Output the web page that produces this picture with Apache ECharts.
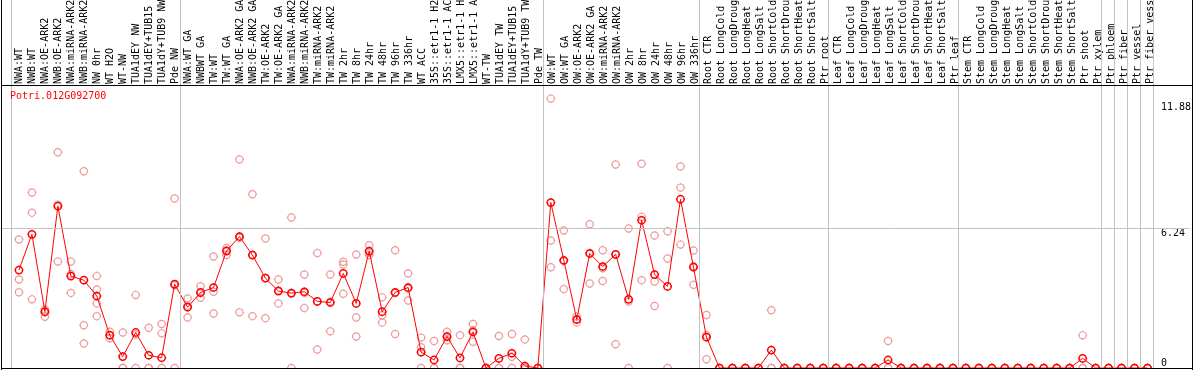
<!DOCTYPE html>
<html><head><meta charset="utf-8">
<script src="https://cdn.jsdelivr.net/npm/echarts@6/dist/echarts.min.js"></script>
<style>html,body{margin:0;padding:0;background:#fff}#c{width:1194px;height:370px}</style>
</head><body><div id="c"></div>
<script>
const chartTitle = 'Potri.012G092700';

const categories = [
  'NWA:WT','NWB:WT','NWA:OE-ARK2','NWB:OE-ARK2','NWA:miRNA-ARK2','NWB:miRNA-ARK2','NW 0hr','WT H2O','WT-NW','TUA1dEY NW','TUA1dEY+TUB15 NW','TUA1dY+TUB9 NW','Pde NW',
  'NWA:WT GA','NWBWT GA','TW:WT','TW:WT GA','NWA:OE-ARK2 GA','NWB:OE-ARK2 GA','TW:OE-ARK2','TW:OE-ARK2 GA','NWA:miRNA-ARK2 GA','NWB:miRNA-ARK2 GA','TW:miRNA-ARK2','TW:miRNA-ARK2 GA','TW 2hr','TW 8hr','TW 24hr','TW 48hr','TW 96hr','TW 336hr','WT ACC','35S::etr1-1 H2O','35S::etr1-1 ACC','LMX5::etr1-1 H2O','LMX5::etr1-1 ACC','WT-TW','TUA1dEY TW','TUA1dEY+TUB15 TW','TUA1dY+TUB9 TW','Pde TW',
  'OW:WT','OW:WT GA','OW:OE-ARK2','OW:OE-ARK2 GA','OW:miRNA-ARK2','OW:miRNA-ARK2 GA','OW 2hr','OW 8hr','OW 24hr','OW 48hr','OW 96hr','OW 336hr',
  'Root CTR','Root LongCold','Root LongDrought','Root LongHeat','Root LongSalt','Root ShortCold','Root ShortDrought','Root ShortHeat','Root ShortSalt','Ptr root',
  'Leaf CTR','Leaf LongCold','Leaf LongDrought','Leaf LongHeat','Leaf LongSalt','Leaf ShortCold','Leaf ShortDrought','Leaf ShortHeat','Leaf ShortSalt','Ptr leaf',
  'Stem CTR','Stem LongCold','Stem LongDrought','Stem LongHeat','Stem LongSalt','Stem ShortCold','Stem ShortDrought','Stem ShortHeat','Stem ShortSalt','Ptr shoot','Ptr xylem',
  'Ptr phloem','Ptr fiber','Ptr vessel','Ptr fiber vessel'
];

const means = [
  4.38,5.98,2.52,7.24,4.11,3.93,3.22,1.47,0.51,1.59,0.57,0.46,3.75,
  2.72,3.38,3.60,5.23,5.88,5.05,4.02,3.44,3.35,3.41,2.98,2.93,4.23,2.89,5.23,2.52,3.38,3.60,0.71,0.36,1.41,0.45,1.61,0,0.43,0.66,0.09,0,
  7.40,4.82,2.17,5.12,4.54,5.08,3.07,6.61,4.18,3.65,7.55,4.51,
  1.38,0,0,0,0,0.80,0,0,0,0,
  0,0,0,0,0.36,0,0,0,0,0,
  0,0,0,0,0,0,0,0,0,0.43,0,
  0,0,0,0
];

const replicates = [
  [5.75,3.96,3.39],[7.85,6.95,3.07],[2.62,2.49,2.29],[9.65,7.30,4.76],[4.76,4.21,3.36],[8.80,1.91,1.10],[4.11,3.51,2.89,2.32],[1.62,1.47,1.33],[1.59,0,0],[3.26,1.50,0],[1.80,0,0],[1.97,1.55,0],[7.58,3.70,0],
  [3.11,2.79,2.26],[3.66,3.34,3.14],[4.99,3.41,2.44],[5.37,5.27,5.05],[9.33,5.82,2.49],[7.77,5.06,2.32],[5.79,4.04,2.23],[3.96,3.47,2.89],[6.73,3.32,0],[4.18,3.37,2.68],[5.14,2.97,0.83],[4.18,2.97,1.64],[4.75,4.63,3.32],[5.08,2.26,1.41],[5.49,5.15,5.05],[3.16,2.36,2.04],[5.27,3.35,1.52],[4.23,3.55,3.02],[1.36,0.93,0],[1.21,0,0],[1.62,1.37,1.24],[1.47,0,0],[1.97,1.69,1.17],[0,0,0],[1.43,0,0],[1.52,0.50,0],[1.28,0,0],[0,0,0],
  [12.05,5.70,4.51],[6.15,4.78,3.53],[2.30,2.17,2.04],[6.43,5.15,3.78],[5.27,4.46,3.89],[9.10,5.08,1.06],[6.24,2.97,0],[9.14,6.76,3.93],[5.93,3.87,2.77],[6.12,4.90,0],[9.01,8.07,5.52],[5.26,4.55,3.72],
  [2.37,1.47,0.39],[0,0,0],[0,0,0],[0,0,0],[0,0,0],[2.58,0,0],[0,0,0],[0,0,0],[0,0,0],[0,0,0],
  [0,0,0],[0,0,0],[0,0,0],[0,0,0],[1.21,0,0],[0,0,0],[0,0,0],[0,0,0],[0,0,0],[0,0,0],
  [0,0,0],[0,0,0],[0,0,0],[0,0,0],[0,0,0],[0,0,0],[0,0,0],[0,0,0],[0,0,0],[1.46,0,0],[0,0,0],
  [0,0,0],[0,0,0],[0,0,0],[0,0,0]
];

const yTickValues = [0, 6.24, 11.88];
const gridLineValue = 6.24;
const groupStarts = [0, 13, 41, 53, 63, 73, 84, 85, 86, 87, 88];

const FONT = 'DejaVu Sans Mono';
const STEP = 13;          // px per category
const FIRST = 19;         // px of first category center
const PLOT_L = 1, PLOT_W = 1191, PLOT_H = 368;
const YMAX = 16.461;
const XMIN = (PLOT_L - FIRST) / STEP;
const XMAX = XMIN + PLOT_W / STEP;

const SYMBOL = 'path://M1,5A4,4,0,1,0,9,5A4,4,0,1,0,1,5ZM5,0L5,1.6M5,8.4L5,10M0,5L1.6,5M8.4,5L10,5';

const repData = [];
replicates.forEach((arr, i) => arr.forEach(v => repData.push([i, v])));
const meanData = means.map((v, i) => [i, v]);

const chart = echarts.init(document.getElementById('c'), null, {renderer: 'canvas'});
chart.setOption({
  animation: false,
  backgroundColor: '#fff',
  title: {
    text: chartTitle, left: 10, top: 91, padding: 0,
    textStyle: {color: '#ff0000', fontFamily: FONT, fontSize: 10, fontWeight: 'normal'}
  },
  grid: [
    {left: PLOT_L, top: 0, width: PLOT_W, height: PLOT_H},
    {left: FIRST - STEP / 2, top: 85, width: STEP * categories.length, height: 1}
  ],
  xAxis: [
    {type: 'value', gridIndex: 0, min: XMIN, max: XMAX, show: false},
    {type: 'category', gridIndex: 1, position: 'top', data: categories, boundaryGap: true,
     axisLine: {show: false}, axisTick: {show: false}, splitLine: {show: false},
     axisLabel: {interval: 0, rotate: 90, margin: 2, fontFamily: FONT, fontSize: 10, color: '#000'}}
  ],
  yAxis: [
    {type: 'value', gridIndex: 0, position: 'right', min: 0, max: YMAX,
     axisLine: {show: false}, axisTick: {show: false}, splitLine: {show: false},
     axisLabel: {customValues: yTickValues.filter(v => v > 0), formatter: v => String(v),
       align: 'left', verticalAlign: 'top', margin: -28.5, fontFamily: FONT, fontSize: 10, color: '#000'}},
    {type: 'value', gridIndex: 0, position: 'right', min: 0, max: YMAX,
     axisLine: {show: false}, axisTick: {show: false}, splitLine: {show: false},
     axisLabel: {customValues: yTickValues.filter(v => v === 0), formatter: v => String(v),
       align: 'left', verticalAlign: 'bottom', margin: -28.5, fontFamily: FONT, fontSize: 10, color: '#000'}},
    {type: 'value', gridIndex: 1, show: false}
  ],
  series: [
    {
      type: 'scatter', xAxisIndex: 0, yAxisIndex: 0, data: repData,
      symbol: SYMBOL, symbolSize: 9, z: 2, silent: true,
      itemStyle: {color: 'rgba(0,0,0,0)', borderColor: '#ee9a9a', borderWidth: 1.2, opacity: 1}
    },
    {
      type: 'line', xAxisIndex: 0, yAxisIndex: 0, data: meanData,
      symbol: SYMBOL, symbolSize: 9, showSymbol: true, showAllSymbol: true, z: 3, silent: true,
      lineStyle: {color: '#ff0000', width: 1},
      itemStyle: {color: 'rgba(0,0,0,0)', borderColor: '#ff0000', borderWidth: 1.5},
      markLine: {
        silent: true, symbol: 'none', label: {show: false},
        lineStyle: {color: '#c3c3c3', width: 1, type: 'solid'},
        data: groupStarts.map(g => ({xAxis: g - 7.5 / STEP})).concat([{yAxis: gridLineValue}])
      }
    }
  ],
  graphic: [
    {type: 'rect', z: 100, shape: {x: 0, y: 369, width: 1194, height: 2}, style: {fill: '#fff'}},
    {type: 'line', z: 101, shape: {x1: 1.5, y1: 0, x2: 1.5, y2: 370}, style: {stroke: '#000', lineWidth: 1}},
    {type: 'line', z: 101, shape: {x1: 1192.5, y1: 0, x2: 1192.5, y2: 370}, style: {stroke: '#000', lineWidth: 1}},
    {type: 'line', z: 101, shape: {x1: 1, y1: 368.5, x2: 1193, y2: 368.5}, style: {stroke: '#000', lineWidth: 1}},
    {type: 'line', z: 101, shape: {x1: 1, y1: 85.5, x2: 1193, y2: 85.5}, style: {stroke: '#000', lineWidth: 1}}
  ]
});
</script></body></html>
